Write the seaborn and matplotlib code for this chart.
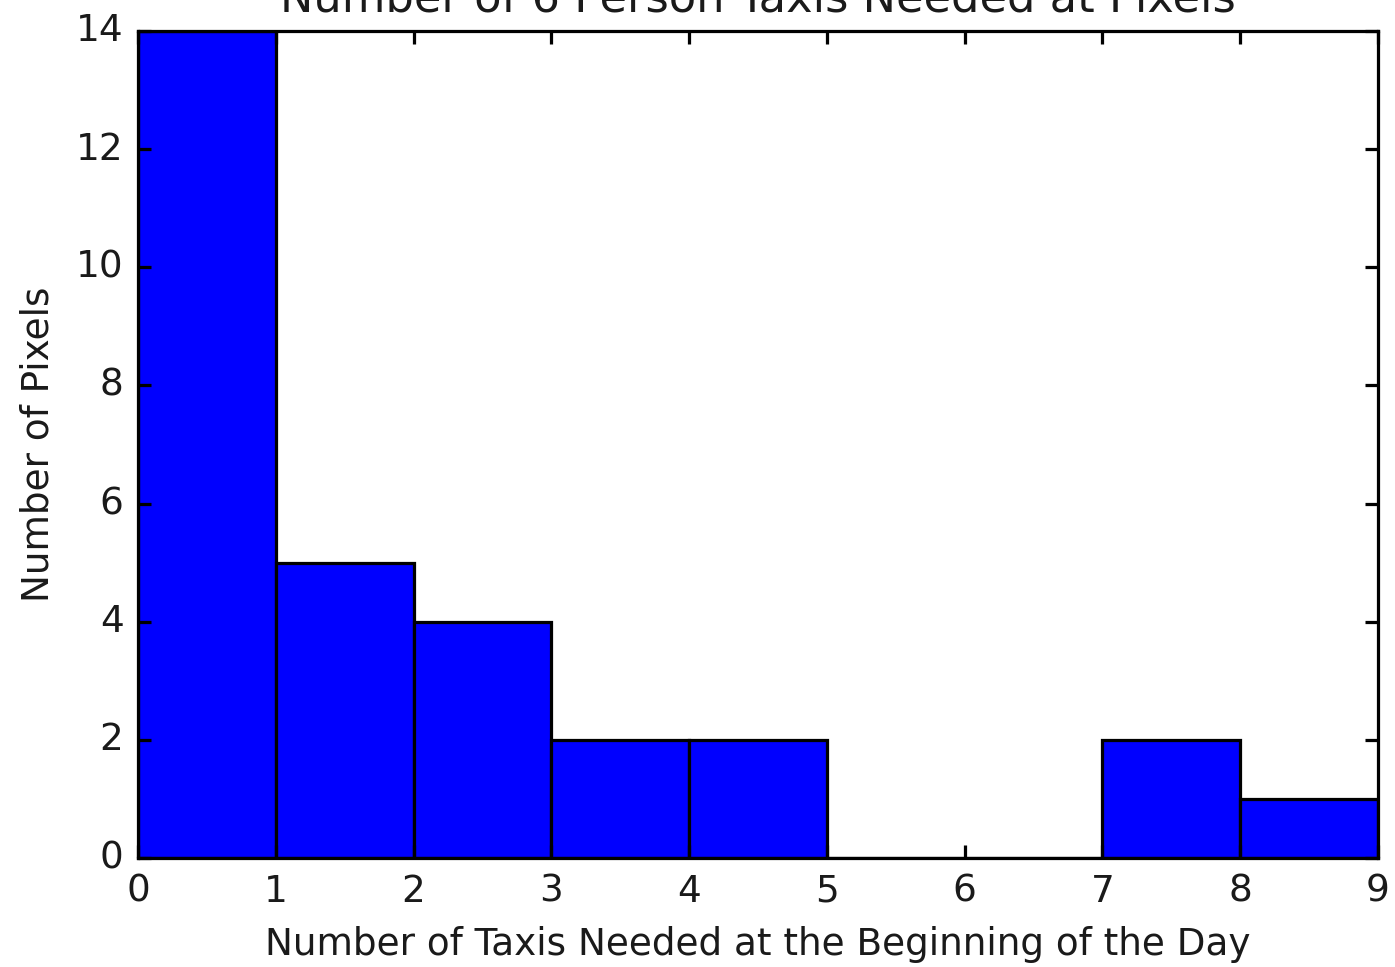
import numpy as np
import pandas as pd
import matplotlib
matplotlib.use("Agg")
import matplotlib.pyplot as plt
import seaborn as sns

# Taxis needed per pixel, binned by whole numbers of taxis
bin_starts = [0, 1, 2, 3, 4, 5, 6, 7, 8]
pixel_counts = [14, 5, 4, 2, 2, 0, 0, 2, 1]
bin_edges = [0, 1, 2, 3, 4, 5, 6, 7, 8, 9]
y_ticks = [0, 2, 4, 6, 8, 10, 12, 14]

df = pd.DataFrame({"taxis": bin_starts, "pixels": pixel_counts})

plt.style.use("classic")
plt.rcParams.update({
    "figure.facecolor": "white",
    "savefig.facecolor": "white",
    "font.family": ["DejaVu Sans"],
    "font.size": 11.6,
})

dpi = 232
fig = plt.figure(figsize=(1395 / dpi, 967 / dpi), dpi=dpi)
ax = fig.add_axes([138 / 1395, 1 - 858 / 967, (1378 - 138) / 1395, (858 - 31) / 967])

sns.histplot(data=df, x="taxis", weights="pixels", bins=bin_edges,
             color="#0000ff", alpha=1.0, edgecolor="black", linewidth=1.0,
             ax=ax)

ax.set_xlim(0, 9)
ax.set_ylim(0, 14)
ax.set_xticks(bin_edges)
ax.set_yticks(y_ticks)
ax.tick_params(direction="in", length=4, width=1, top=True, right=True,
               labelsize=11.6, pad=4.5, colors="black", labelcolor="#1a1a1a")
ax.set_xlabel("Number of Taxis Needed at the Beginning of the Day",
              fontsize=11.6, color="#1a1a1a")
ax.set_ylabel("Number of Pixels", fontsize=11.6, color="#1a1a1a", labelpad=6)
ax.set_title("Number of 6 Person Taxis Needed at Pixels", fontsize=13.9,
             pad=6, color="#1a1a1a")
for s in ax.spines.values():
    s.set_linewidth(1.0)
    s.set_color("black")

fig.savefig("out.png", dpi=dpi)
